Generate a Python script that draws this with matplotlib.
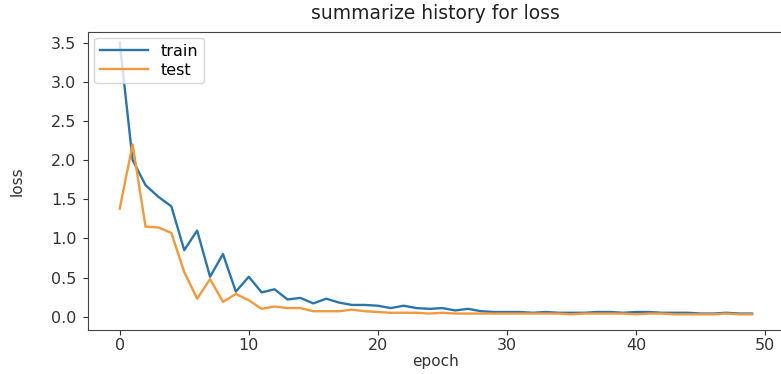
import matplotlib
matplotlib.use("Agg")
import matplotlib.pyplot as plt
import numpy as np

epochs = list(range(50))
train_loss = [3.50, 2.00, 1.68, 1.53, 1.41, 0.85, 1.10, 0.51, 0.80, 0.32,
              0.51, 0.31, 0.35, 0.22, 0.24, 0.17, 0.23, 0.18, 0.15, 0.15,
              0.14, 0.11, 0.14, 0.11, 0.10, 0.11, 0.08, 0.10, 0.07, 0.06,
              0.06, 0.06, 0.05, 0.06, 0.05, 0.05, 0.05, 0.06, 0.06, 0.05,
              0.06, 0.06, 0.05, 0.05, 0.05, 0.04, 0.04, 0.05, 0.04, 0.04]
test_loss = [1.38, 2.20, 1.15, 1.14, 1.07, 0.57, 0.23, 0.48, 0.19, 0.29,
             0.21, 0.10, 0.13, 0.11, 0.11, 0.07, 0.07, 0.07, 0.09, 0.07,
             0.06, 0.05, 0.05, 0.05, 0.04, 0.05, 0.04, 0.04, 0.04, 0.04,
             0.04, 0.04, 0.04, 0.04, 0.04, 0.03, 0.04, 0.04, 0.04, 0.04,
             0.03, 0.04, 0.04, 0.03, 0.03, 0.03, 0.03, 0.04, 0.03, 0.03]

fig = plt.figure(figsize=(7.81, 3.74), dpi=100)
ax = fig.add_axes([88.1 / 781, 44 / 374, 695.6 / 781, (330 - 31.7) / 374])

ax.plot(epochs, train_loss, color="#2c75a8", lw=1.7, label="train")
ax.plot(epochs, test_loss, color="#f0993e", lw=1.7, label="test")

ax.set_xlim(-2.45, 51.45)
ax.set_ylim(-0.17, 3.64)
ax.set_xticks([0, 10, 20, 30, 40, 50])
ax.set_yticks([0.0, 0.5, 1.0, 1.5, 2.0, 2.5, 3.0, 3.5])
ax.tick_params(labelsize=11.5, colors="#333333")
ax.tick_params(axis="x", pad=2)
ax.tick_params(axis="y", pad=5)
for s in ax.spines.values():
    s.set_color("#444444")
ax.set_title("summarize history for loss", fontsize=13.5, color="#222222", pad=9)
ax.set_xlabel("epoch", fontsize=11, color="#333333", labelpad=1)
ax.set_ylabel("loss", fontsize=11, color="#333333", labelpad=19)
ax.legend(loc="upper left", fontsize=11.5, handlelength=3.0,
          labelspacing=0.25, borderpad=0.35, borderaxespad=0.4)

fig.savefig("out.png", dpi=100)
